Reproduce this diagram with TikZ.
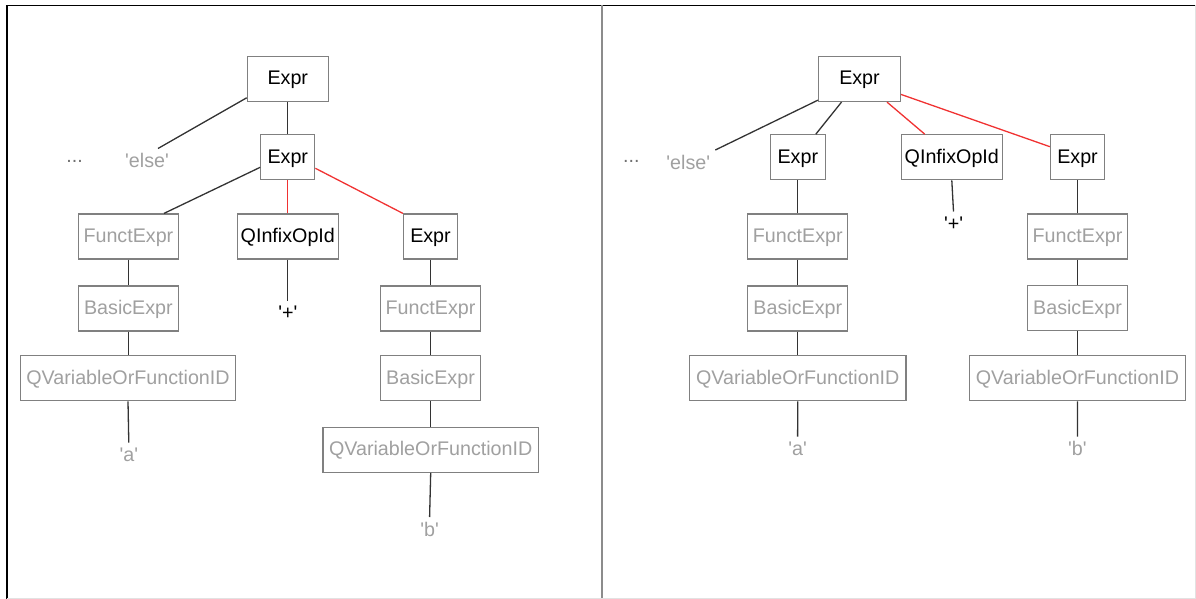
\documentclass[tikz,border=0pt]{standalone}
\usepackage{fontspec}
\setmainfont{Liberation Sans}
\definecolor{boxgray}{HTML}{808080}
\definecolor{txtgray}{HTML}{A0A0A0}
\definecolor{dotgray}{HTML}{707070}
\definecolor{linegray}{HTML}{333333}
\definecolor{hotred}{HTML}{F03232}
\definecolor{rulegray}{HTML}{8C8C8C}
\definecolor{edgegray}{HTML}{E2E2E2}
\newcommand{\q}{\textquotesingle}
\tikzset{
  nt/.style={draw=boxgray, line width=1.2pt, fill=white, inner sep=0pt,
             minimum height=45pt, text height=12pt, text depth=0pt},
  act/.style={nt, text=black},
  dim/.style={nt, text=txtgray},
  leaf/.style={inner sep=5pt, text height=13.8pt, text depth=0pt, anchor=base},
  link/.style={draw=linegray, line width=1.3pt},
  hotlink/.style={draw=hotred, line width=1.3pt},
}
\begin{document}
\begin{tikzpicture}[x=1pt, y=1pt, font=\fontsize{19.7}{23}\selectfont]
\useasboundingbox (0,0) rectangle (1196,-599);

% panel frame
\draw[black, line width=1.8pt] (5.8,-5.5) -- (1196,-5.5);
\draw[black, line width=1.8pt] (6.7,-5.5) -- (6.7,-599);
\draw[rulegray, line width=2.6pt] (601.8,-5.5) -- (601.8,-599);
\draw[edgegray, line width=1pt] (1195.4,-5.5) -- (1195.4,-599);
\draw[edgegray, line width=1pt] (6.7,-598.4) -- (1195.4,-598.4);

% ---------- left tree ----------
\node[act, minimum width=81pt]   (rootL)  at (287.8,-79)   {Expr};
\node[act, minimum width=54pt]   (exprL)  at (287.8,-157)  {Expr};
\node[dim, minimum width=100pt]  (functL) at (128.4,-236.5) {FunctExpr};
\node[act, minimum width=101pt]  (qinfL)  at (287.8,-236.5) {QInfixOpId};
\node[act, minimum width=54pt]   (exprLb) at (430.5,-236.5)  {Expr};
\node[dim, minimum width=100pt]  (basicL) at (128.4,-308.5) {BasicExpr};
\node[dim, minimum width=100pt]  (functLb) at (430.5,-308.5) {FunctExpr};
\node[dim, minimum width=215.5pt] (qvarL) at (128,-378.2)  {QVariableOrFunctionID};
\node[dim, minimum width=100pt]  (basicLb) at (430.5,-378)   {BasicExpr};
\node[dim, minimum width=215.5pt] (qvarLb) at (430.7,-449.8) {QVariableOrFunctionID};

\node[leaf, text=dotgray] (dotsL) at (74.7,-162.3) {...};
\node[leaf, text=txtgray] (elseL) at (147,-167.5)  {\q else\q};
\node[leaf, text=black]   (plusL) at (287.8,-319.7) {\q+\q};
\node[leaf, text=txtgray] (aL)    at (128.8,-461.7) {\q a\q};
\node[leaf, text=txtgray] (bL)    at (429.6,-536)   {\q b\q};

\draw[link] ([yshift=4.3pt]rootL.south west) -- ([xshift=11pt]elseL.north);
\draw[link] (rootL.south) -- (exprL.north);
\draw[link] ([yshift=12.8pt]exprL.south west) -- ([xshift=-15pt]functL.north east);
\draw[hotlink] (exprL.south) -- (qinfL.north);
\draw[hotlink] ([yshift=11.8pt]exprL.south east) -- (exprLb.north west);
\draw[link] (qinfL.south) -- (plusL.north);
\draw[link] (functL.south) -- (basicL.north);
\draw[link] (basicL.south) -- (basicL.south |- qvarL.north);
\draw[link] (qvarL.south) -- (aL.north);
\draw[link] (exprLb.south) -- (functLb.north);
\draw[link] (functLb.south) -- (basicLb.north);
\draw[link] (basicLb.south) -- (basicLb.south |- qvarLb.north);
\draw[link] (qvarLb.south) -- (bL.north);

% ---------- right tree ----------
\node[act, minimum width=81.7pt] (rootR)  at (859.5,-79)    {Expr};
\node[act, minimum width=54.7pt] (exprR)  at (797.8,-157.3) {Expr};
\node[act, minimum width=100.7pt] (qinfR) at (951.8,-157.3) {QInfixOpId};
\node[act, minimum width=54pt]   (exprRb) at (1077.5,-157.3) {Expr};
\node[dim, minimum width=100pt]  (functR) at (797.8,-236.5) {FunctExpr};
\node[dim, minimum width=100pt]  (functRb) at (1077.5,-236.5) {FunctExpr};
\node[dim, minimum width=100pt]  (basicR) at (797.8,-308.5) {BasicExpr};
\node[dim, minimum width=100pt]  (basicRb) at (1077.5,-308.2) {BasicExpr};
\node[dim, minimum width=216.3pt] (qvarR) at (797.8,-378.2) {QVariableOrFunctionID};
\node[dim, minimum width=216pt]  (qvarRb) at (1077.5,-378.2) {QVariableOrFunctionID};

\node[leaf, text=dotgray] (dotsR) at (631.3,-162.3) {...};
\node[leaf, text=txtgray] (elseR) at (688.3,-169)   {\q else\q};
\node[leaf, text=black]   (plusR) at (953.5,-230.5) {\q+\q};
\node[leaf, text=txtgray] (aR)    at (797.6,-455.5) {\q a\q};
\node[leaf, text=txtgray] (bR)    at (1077.4,-455.5) {\q b\q};

\draw[link] ([yshift=2pt]rootR.south west) -- (elseR.north east);
\draw[link] ([xshift=-18pt]rootR.south) -- ([xshift=18pt]exprR.north);
\draw[hotlink] ([xshift=27.5pt]rootR.south) -- ([xshift=-27pt]qinfR.north);
\draw[hotlink] ([yshift=7.7pt]rootR.south east) -- ([yshift=-12.5pt]exprRb.north west);
\draw[link] (qinfR.south) -- (plusR.north);
\draw[link] (exprR.south) -- (functR.north);
\draw[link] (functR.south) -- (basicR.north);
\draw[link] (basicR.south) -- (qvarR.north);
\draw[link] (qvarR.south) -- (aR.north);
\draw[link] (exprRb.south) -- (functRb.north);
\draw[link] (functRb.south) -- (basicRb.north);
\draw[link] (basicRb.south) -- (qvarRb.north);
\draw[link] (qvarRb.south) -- (bR.north);
\end{tikzpicture}
\end{document}
